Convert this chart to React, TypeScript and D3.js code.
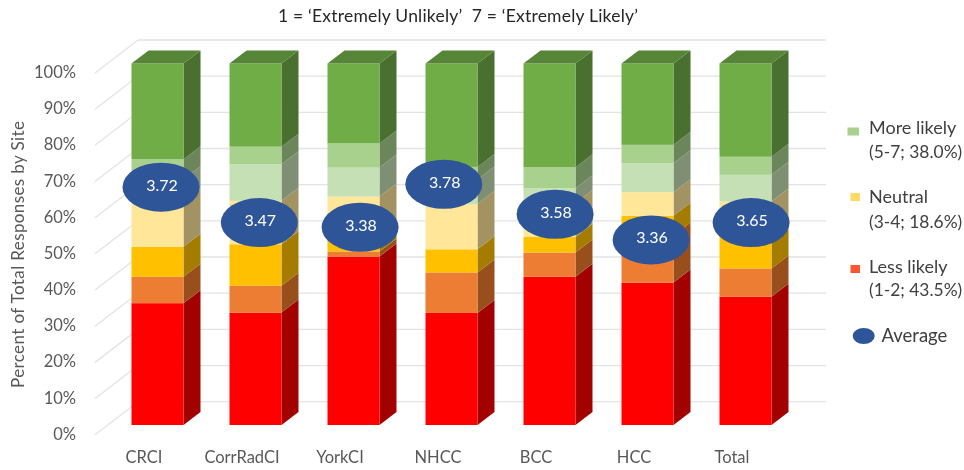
import React from "react";
import * as d3 from "d3";

const sites = ["CRCI", "CorrRadCI", "YorkCI", "NHCC", "BCC", "HCC", "Total"];

// share of responses per band
const score12a = [33.7, 31.1, 46.6, 31, 41, 39.4, 35.5];
const score12b = [7.3, 7.4, 1.4, 11.2, 6.7, 13, 7.8];
const score34a = [8.3, 11.5, 6, 6.4, 4.3, 5.5, 8.7];
const score34b = [12.7, 12, 9.2, 12.5, 9.4, 6.5, 9.8];
const score57a = [6, 10.1, 8, 6.8, 4.1, 8, 7.4];
const score57b = [5.5, 4.9, 6.7, 3.5, 5.8, 5.1, 5];
const score57c = [26.5, 23, 22.1, 28.6, 28.7, 22.5, 25.8];

const bandKeys = ["a", "b", "c", "d", "e", "f", "g"];
const bandValues = [score12a, score12b, score34a, score34b, score57a, score57b, score57c];
const bandColors = ["#ff0000", "#ed7d31", "#ffc000", "#ffe699", "#c5e0b4", "#a9d18e", "#70ad47"];

const averages = ["3.72", "3.47", "3.38", "3.78", "3.58", "3.36", "3.65"];
// the average bubbles were hand placed in the original, so height and nudge are not derived from the value
const averageHeight = [65.8, 56, 54.7, 66.6, 58.3, 51.2, 56];
const averageNudge = [3.5, 3.8, 6.6, -7.7, 5.6, 3.6, 5.6];

const ticks = [0, 10, 20, 30, 40, 50, 60, 70, 80, 90, 100];
const FONT = "Lato, 'Open Sans', sans-serif";

const shade = (c: string, k: number) => {
  const r = d3.rgb(c);
  return d3.rgb(r.r * k, r.g * k, r.b * k).formatHex();
};

const poly = (pts: number[][]) => {
  const p = d3.path();
  pts.forEach(([x, y], i) => (i ? p.lineTo(x, y) : p.moveTo(x, y)));
  p.closePath();
  return p.toString();
};

export default function App() {
  const x = d3
    .scaleBand<string>()
    .domain(sites)
    .range([131.5, 771.5])
    .paddingInner(46 / 98)
    .paddingOuter(0);
  const y = d3.scaleLinear().domain([0, 100]).range([425, 63.5]);
  const wallY = d3.scaleLinear().domain([0, 100]).range([401.7, 40]);

  const rows = sites.map((_, i) => {
    const r: Record<string, number> = {};
    bandKeys.forEach((k, j) => (r[k] = bandValues[j][i]));
    return r;
  });
  const stack = d3.stack<Record<string, number>>().keys(bandKeys)(rows);

  const w = x.bandwidth();
  const dx = 17;
  const dy = -13;

  return (
    <svg
      width={964}
      height={470}
      style={{ position: "absolute", left: 0, top: 0, fontFamily: FONT }}
    >
      <defs>
        <filter id="soft" x="0" y="0" width="100%" height="100%">
          <feGaussianBlur stdDeviation="0.45" />
        </filter>
      </defs>
      <rect width={964} height={470} fill="#fff" />
      <g filter="url(#soft)">
        <text
          x={458}
          y={22}
          textAnchor="middle"
          fontSize={17.5}
          fill="#262626"
          textLength={360}
          style={{ whiteSpace: "pre" }}
        >
          {"1 = ‘Extremely Unlikely’  7 = ‘Extremely Likely’"}
        </text>

        {/* wall gridlines and the floor diagonals */}
        {ticks.map((t) => (
          <g key={t} stroke="#e3e3e3" strokeWidth={1.3} fill="none">
            <line x1={138} x2={826} y1={wallY(t)} y2={wallY(t)} />
            <line x1={95} x2={138} y1={wallY(t) + 33} y2={wallY(t)} />
          </g>
        ))}
        {ticks.map((t) => (
          <text
            key={t}
            x={76}
            y={wallY(t) + 38}
            textAnchor="end"
            fontSize={16.5}
            fill="#595959"
          >
            {t}%
          </text>
        ))}
        <text
          transform="translate(24,254.5) rotate(-90)"
          textAnchor="middle"
          fontSize={17}
          fill="#595959"
          textLength={267}
        >
          Percent of Total Responses by Site
        </text>

        {/* bars */}
        {sites.map((s, i) => {
          const x0 = x(s)!;
          return (
            <g key={s}>
              {stack.map((layer, j) => {
                const [lo, hi] = layer[i];
                const c = bandColors[j];
                return (
                  <g key={layer.key}>
                    <path
                      d={poly([
                        [x0 + w, y(lo)],
                        [x0 + w + dx, y(lo) + dy],
                        [x0 + w + dx, y(hi) + dy],
                        [x0 + w, y(hi)],
                      ])}
                      fill={shade(c, 0.64)}
                    />
                    <rect x={x0} y={y(hi)} width={w} height={y(lo) - y(hi)} fill={c} />
                  </g>
                );
              })}
              <path
                d={poly([
                  [x0, y(100)],
                  [x0 + dx, y(100) + dy],
                  [x0 + w + dx, y(100) + dy],
                  [x0 + w, y(100)],
                ])}
                fill={shade(bandColors[6], 0.77)}
              />
            </g>
          );
        })}

        {/* average bubbles */}
        {sites.map((s, i) => {
          const cx = x(s)! + w / 2 + averageNudge[i];
          const cy = y(averageHeight[i]);
          return (
            <g key={s}>
              <ellipse cx={cx} cy={cy} rx={38.5} ry={24.5} fill="#2f5597" />
              <text x={cx + 1} y={cy + 3.5} textAnchor="middle" fontSize={16} fill="#fff">
                {averages[i]}
              </text>
            </g>
          );
        })}

        {sites.map((s) => (
          <text
            key={s}
            x={x(s)! + w / 2 - 13.5}
            y={463}
            textAnchor="middle"
            fontSize={16.5}
            fill="#595959"
          >
            {s}
          </text>
        ))}

        {/* legend */}
        <rect x={847.5} y={127.5} width={11.5} height={8} fill="#a9d18e" />
        <text x={869} y={134} fontSize={18} fill="#404040">More likely</text>
        <text x={869} y={158} fontSize={17.4} fill="#404040">(5-7; 38.0%)</text>
        <rect x={850.5} y={193} width={9.5} height={8} fill="#ffd966" />
        <text x={869} y={203} fontSize={18} fill="#404040">Neutral</text>
        <text x={869} y={228} fontSize={17.4} fill="#404040">(3-4; 18.6%)</text>
        <rect x={850.5} y={265} width={9.5} height={8} fill="#ff5733" />
        <text x={869} y={273} fontSize={18} fill="#404040">Less likely</text>
        <text x={869} y={296} fontSize={17.4} fill="#404040">(1-2; 43.5%)</text>
        <ellipse cx={863.7} cy={336} rx={11} ry={8} fill="#2f5597" />
        <text x={881.5} y={342} fontSize={18.5} fill="#404040">Average</text>
      </g>
    </svg>
  );
}
